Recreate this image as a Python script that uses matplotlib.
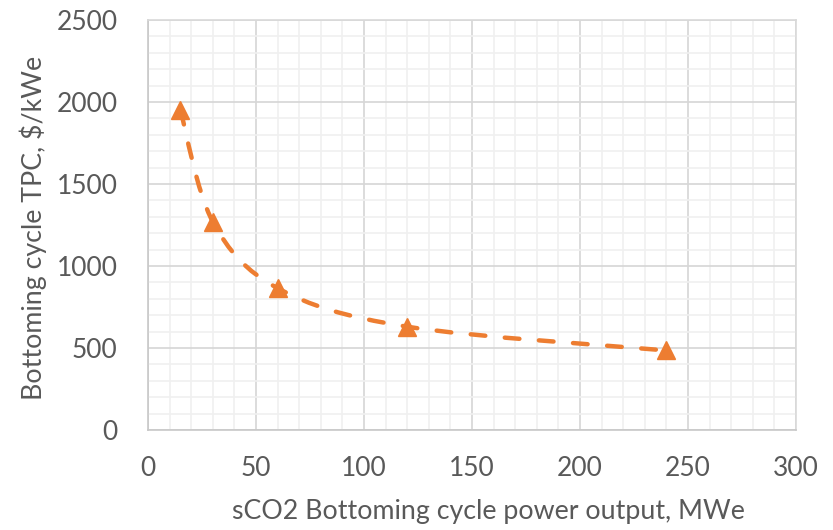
import matplotlib
matplotlib.use("Agg")
import matplotlib.pyplot as plt
from matplotlib.path import Path
from matplotlib.patches import PathPatch
from matplotlib.ticker import MultipleLocator
import numpy as np

power_mwe = [15, 30, 60, 120, 240]
tpc_per_kwe = [1950, 1270, 865, 630, 485]
x_ticks = [0, 50, 100, 150, 200, 250, 300]
y_ticks = [0, 500, 1000, 1500, 2000, 2500]

orange = "#ED7D31"
plt.rcParams['font.family'] = ['Lato', 'DejaVu Sans']

fig = plt.figure(figsize=(8.33, 5.30), dpi=100)
ax = fig.add_axes([148/833, 1-430/530, (796-148)/833, (430-20)/530])

ax.set_xlim(0, 300)
ax.set_ylim(0, 2500)
ax.set_xticks(x_ticks)
ax.set_yticks(y_ticks)
ax.xaxis.set_minor_locator(MultipleLocator(10))
ax.yaxis.set_minor_locator(MultipleLocator(100))
ax.grid(which='minor', color='#F0F0F0', linewidth=1.2, zorder=0)
ax.grid(which='major', color='#D6D6D6', linewidth=1.2, zorder=0)
ax.set_axisbelow(True)
ax.tick_params(which='both', length=0, labelsize=19, colors='#595959')
ax.tick_params(axis='y', pad=22)
ax.tick_params(axis='x', pad=19)
for s in ['top', 'right']:
    ax.spines[s].set_color('#D9D9D9')
for s in ['left', 'bottom']:
    ax.spines[s].set_color('#C8C8C8')
for s in ax.spines.values():
    s.set_linewidth(1.2)

# smooth curve (Excel-like Bezier) through the data points
x = np.array(power_mwe, float)
y = np.array(tpc_per_kwe, float)
sx = 1/300.0
sy = 1/2500.0 * (410/648)
px = x*sx
py = y*sy
verts = [(x[0], y[0])]
codes = [Path.MOVETO]
t = 1/6
n = len(x)
for i in range(n-1):
    i0 = max(i-1, 0)
    i3 = min(i+2, n-1)
    c1 = (px[i] + (px[i+1]-px[i0])*t, py[i] + (py[i+1]-py[i0])*t)
    c2 = (px[i+1] - (px[i3]-px[i])*t, py[i+1] - (py[i3]-py[i])*t)
    verts += [(c1[0]/sx, c1[1]/sy), (c2[0]/sx, c2[1]/sy), (x[i+1], y[i+1])]
    codes += [Path.CURVE4]*3
path = Path(verts, codes)
patch = PathPatch(path, facecolor='none', edgecolor=orange, linewidth=3.2,
                  linestyle=(0, (3.3, 4.4)), capstyle='round', zorder=3)
ax.add_patch(patch)
ax.plot(power_mwe, tpc_per_kwe, linestyle='none', marker='^', markersize=13,
        color=orange, zorder=4, clip_on=False)

ax.set_xlabel('sCO2 Bottoming cycle power output, MWe', fontsize=19.3,
              color='#595959')
ax.set_ylabel('Bottoming cycle TPC, $/kWe', fontsize=19.3, color='#595959')
ax.xaxis.set_label_coords(0.526, -0.20)
ax.xaxis.label.set_va('center')
ax.yaxis.set_label_coords(-0.1775, 0.494)
ax.yaxis.label.set_va('center')

fig.savefig('out.png', dpi=100)
